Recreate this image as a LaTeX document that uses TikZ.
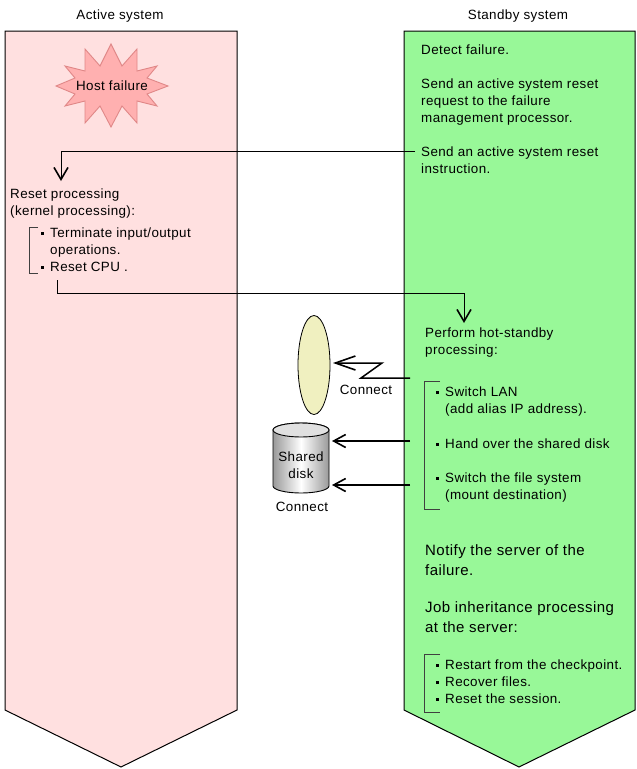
\documentclass[tikz,border=0pt]{standalone}
\usepackage{fontspec}
\setmainfont[LetterSpace=3]{Liberation Sans}
\usetikzlibrary{arrows.meta, shapes.geometric}

\definecolor{custompink}{HTML}{FFE0E0}
\definecolor{customgreen}{HTML}{98F898}
\definecolor{customstar}{HTML}{FFB0B0}
\definecolor{customstarline}{HTML}{E08888}
\definecolor{customcream}{HTML}{F0F0C0}

\newcommand{\blt}{\makebox[9.5pt][l]{\rule[3pt]{3pt}{3pt}}}

\begin{document}
\begin{tikzpicture}[x=1pt, y=-1pt]
  \tikzset{
    panel_node/.style={draw=black, line width=1pt},
    txt_node/.style={anchor=north west, align=left, inner sep=0pt, font=\fontsize{13.4}{17}\selectfont},
    big_node/.style={anchor=north west, align=left, inner sep=0pt, font=\fontsize{15}{20}\selectfont},
    head_node/.style={inner sep=0pt, font=\fontsize{13.4}{17}\selectfont},
    link_thin/.style={draw=black, line width=0.9pt, -{Straight Barb[length=12pt, width=14pt, line width=1.6pt]}},
    link_thick/.style={draw=black, line width=1.5pt, -{Straight Barb[length=12pt, width=13pt, line width=1.6pt]}},
    brace_line/.style={draw=black!75, line width=0.9pt}
  }

  \useasboundingbox (0,0) rectangle (637,769);

  % Paneles
  \draw[panel_node, fill=custompink] (5,31) -- (237,31) -- (237,710) -- (121,767) -- (5,710) -- cycle;
  \draw[panel_node, fill=customgreen] (404,31) -- (635,31) -- (635,710) -- (519,767) -- (404,710) -- cycle;

  \node[head_node] (active_title) at (120,16) {Active system};
  \node[head_node] (standby_title) at (518,16) {Standby system};

  % Estrella
  \draw[draw=customstarline, fill=customstar, line width=0.9pt]
    (111,44) -- (122,66) -- (137,49) -- (137,71) -- (157,66) -- (147,78) -- (168,86)
    -- (147,94) -- (157,106) -- (137,101) -- (137,123) -- (122,106) -- (111,127)
    -- (100,106) -- (85,123) -- (85,101) -- (65,106) -- (75,94) -- (56,86)
    -- (75,78) -- (65,66) -- (85,71) -- (85,49) -- (100,66) -- cycle;
  \node[head_node] (host_failure) at (112,86) {Host failure};

  % Textos del sistema activo
  \node[txt_node] (reset_proc) at (10,189) {Reset processing\\(kernel processing):};
  \node[txt_node] (reset_list) at (40.5,228) {\blt Terminate input/output\\\hphantom{\blt}operations.\\\blt Reset CPU .};

  % Textos del sistema en espera
  \node[txt_node] (detect) at (421,45) {Detect failure.};
  \node[txt_node] (send_request) at (421,79) {Send an active system reset\\request to the failure\\management processor.};
  \node[txt_node] (send_reset) at (421,147) {Send an active system reset\\instruction.};
  \node[txt_node] (hot_standby) at (425,328) {Perform hot-standby\\processing:};
  \node[txt_node] (switch_lan) at (435.5,387) {\blt Switch LAN\\\hphantom{\blt}(add alias IP address).};
  \node[txt_node] (hand_over) at (435.5,439) {\blt Hand over the shared disk};
  \node[txt_node] (switch_fs) at (435.5,473) {\blt Switch the file system\\\hphantom{\blt}(mount destination)};
  \node[big_node] (notify) at (425,544) {Notify the server of the\\failure.};
  \node[big_node] (job_proc) at (425,601) {Job inheritance processing\\at the server:};
  \node[txt_node] (job_list) at (435.5,660) {\blt Restart from the checkpoint.\\\blt Recover files.\\\blt Reset the session.};

  % Corchetes
  \draw[brace_line] (38,227) -- (29.5,227) -- (29.5,273) -- (38,273);
  \draw[brace_line] (440,381) -- (424.5,381) -- (424.5,509) -- (440,509);
  \draw[brace_line] (440,654) -- (424.5,654) -- (424.5,712) -- (440,712);

  % Elipse y disco
  \node[draw=black, fill=customcream, ellipse, minimum width=32pt, minimum height=99pt, inner sep=0pt, line width=0.8pt] (lan_ellipse) at (314,365) {};
  \draw[draw=black, line width=0.9pt, left color=black!40, right color=black!40, middle color=white]
    (273,430) arc[x radius=28, y radius=7, start angle=180, end angle=360]
    -- (329,486) arc[x radius=28, y radius=7, start angle=0, end angle=180] -- cycle;
  \draw[draw=black, line width=0.9pt, fill=black!12] (301,430) ellipse[x radius=28, y radius=7];
  \node[head_node, align=center, font=\fontsize{13.4}{17}\selectfont] (disk) at (301,465) {Shared\\disk};
  \node[head_node] (connect_lan) at (366,390) {Connect};
  \node[head_node] (connect_disk) at (302,507) {Connect};

  % Flechas
  \coordinate (reset_from) at (415,151);
  \coordinate (reset_bend) at (61,151);
  \coordinate (reset_to) at (61,181);
  \coordinate (cpu_from) at (57,280);
  \coordinate (cpu_bend_a) at (57,293);
  \coordinate (cpu_bend_b) at (464,293);
  \coordinate (cpu_to) at (464,323);
  \coordinate (lan_from) at (410,378);
  \coordinate (lan_zig_a) at (361,378);
  \coordinate (lan_zig_b) at (382,363);
  \coordinate (lan_to) at (333,363);
  \coordinate (disk_from_a) at (410,441);
  \coordinate (disk_to_a) at (332,441);
  \coordinate (disk_from_b) at (410,485);
  \coordinate (disk_to_b) at (332,485);

  \draw[link_thin] (reset_from) -- (reset_bend) -- (reset_to);
  \draw[link_thin] (cpu_from) -- (cpu_bend_a) -- (cpu_bend_b) -- (cpu_to);
  \draw[link_thick, -{Straight Barb[length=20pt, width=14pt, line width=1.6pt]}] (lan_from) -- (lan_zig_a) -- (lan_zig_b) -- (lan_to);
  \draw[link_thick] (disk_from_a) -- (disk_to_a);
  \draw[link_thick] (disk_from_b) -- (disk_to_b);
\end{tikzpicture}
\end{document}
